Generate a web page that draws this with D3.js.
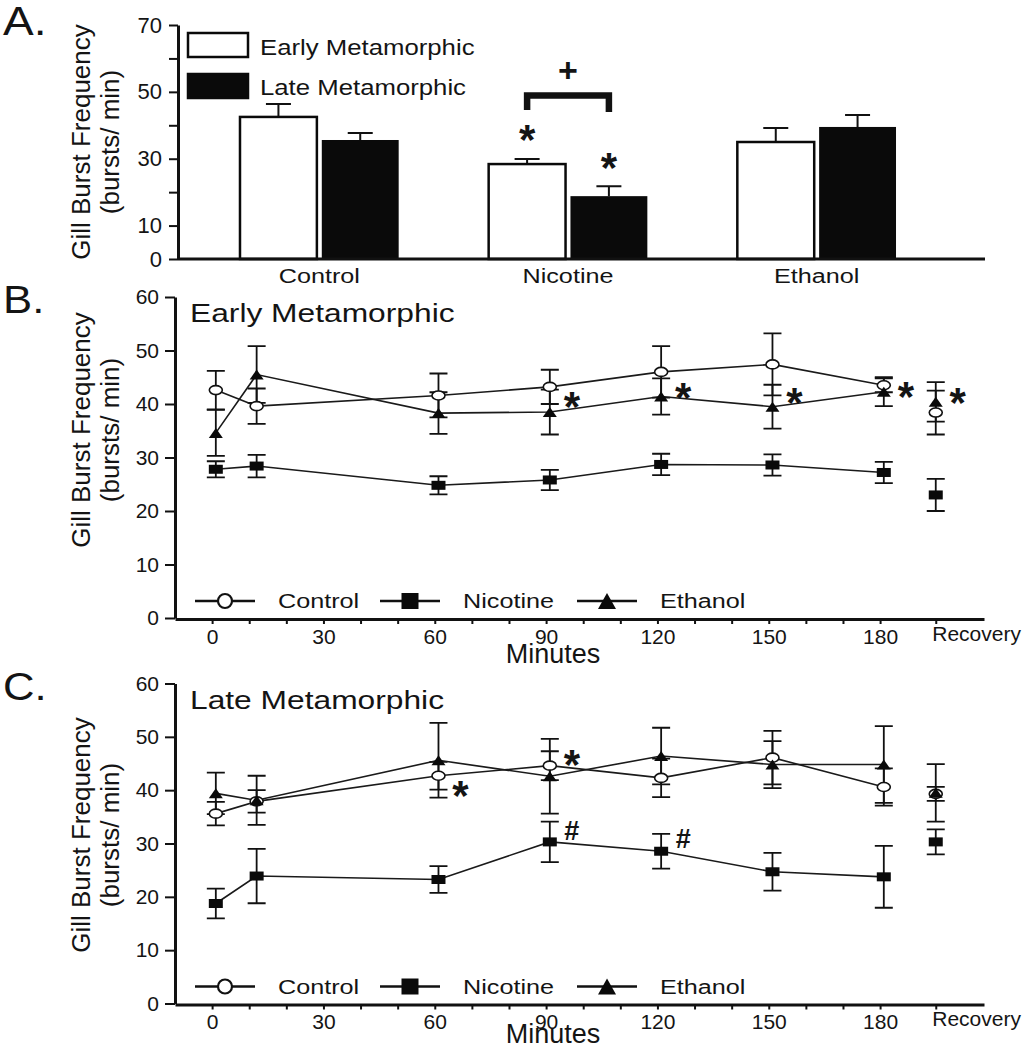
<!DOCTYPE html>
<html>
<head>
<meta charset="utf-8">
<script src="https://cdn.jsdelivr.net/npm/d3@7"></script>
<style>
  body { margin: 0; background: #fff; }
  svg text { font-family: 'Liberation Sans', Arial, sans-serif; fill: #141414; }
</style>
</head>
<body>
<div id="chart"></div>
<script>
// ---- panel A data (bar chart)
let treatments = ['Control', 'Nicotine', 'Ethanol']
let stages = ['Early Metamorphic', 'Late Metamorphic']
let earlyMeans = [42.5, 28.4, 35.0]
let earlyErrors = [3.9, 1.5, 4.2]
let lateMeans = [35.6, 18.8, 39.5]
let lateErrors = [2.1, 3.0, 3.6]
let barTicks = [0, 10, 20, 30, 40, 50, 60, 70]
let barTickLabels = [0, 10, 30, 50, 70]
let bracketLevels = [44.6, 48.9, 44.0]
let plusLevel = 56.5
let barStars = [{ stage: 0, v: 38.7 }, { stage: 1, v: 30.4 }]

// ---- panels B and C data (minutes, last point is recovery)
let minutes = [1, 12, 61, 91, 121, 151, 181, 195]
let recoveryMinute = 195
let timeTicks = [0, 10, 20, 30, 40, 50, 60, 70, 80, 90, 100, 110, 120, 130, 140, 150, 160, 170, 180]
let timeTickLabels = [0, 30, 60, 90, 120, 150, 180]
let rateTicks = [0, 10, 20, 30, 40, 50, 60]
let seriesNames = ['Control', 'Nicotine', 'Ethanol']

let earlyControl = [42.6, 39.6, 41.6, 43.2, 46.0, 47.4, 43.5, 38.4]
let earlyControlErr = [3.6, 3.3, 4.1, 3.2, 4.8, 5.8, 1.3, 4.1]
let earlyNicotine = [27.8, 28.4, 24.8, 25.8, 28.7, 28.6, 27.2, 23.0]
let earlyNicotineErr = [1.5, 2.1, 1.7, 1.9, 2.0, 2.0, 2.0, 3.0]
let earlyEthanol = [34.6, 45.5, 38.3, 38.5, 41.4, 39.5, 42.3, 40.4]
let earlyEthanolErr = [4.3, 5.3, 3.9, 4.2, 3.4, 4.1, 2.7, 3.7]
let earlyMarks = [
  { t: 91, v: 41.3, s: '*' },
  { t: 121, v: 43.0, s: '*' },
  { t: 151, v: 42.2, s: '*' },
  { t: 181, v: 43.2, s: '*' },
  { t: 195, v: 42.1, s: '*' }
]

let lateControl = [35.6, 37.9, 42.7, 44.6, 42.3, 46.1, 40.6, 39.3]
let lateControlErr = [2.2, 2.1, 2.6, 2.7, 3.6, 5.0, 3.5, 1.3]
let lateNicotine = [18.75, 23.9, 23.25, 30.3, 28.55, 24.7, 23.75, 30.3]
let lateNicotineErr = [2.8, 5.1, 2.5, 3.8, 3.25, 3.55, 5.8, 2.35]
let lateEthanol = [39.4, 38.1, 45.6, 42.6, 46.4, 44.8, 44.8, 39.5]
let lateEthanolErr = [3.9, 4.6, 7.0, 7.0, 5.3, 4.4, 7.2, 5.4]
let lateMarks = [
  { t: 61, v: 40.9, s: '*' },
  { t: 91, v: 46.7, s: '*' },
  { t: 91, v: 32.5, s: '#' },
  { t: 121, v: 31.0, s: '#' }
]

let ink = '#111'

let svg = d3
  .select('#chart')
  .append('svg')
  .attr('width', 1025)
  .attr('height', 1050)

// text drawn with a horizontal stretch, like the scanned figure
function addText(parent, x, y, str, size, sx, anchor) {
  return parent
    .append('text')
    .attr('transform', 'translate(' + x + ',' + y + ') scale(' + sx + ',1)')
    .attr('font-size', size)
    .attr('text-anchor', anchor || 'start')
    .text(str)
}

function yLabel(parent, cy) {
  addText(parent, 0, 0, 'Gill Burst Frequency', 26, 1, 'middle').attr(
    'transform',
    'translate(90,' + cy + ') rotate(-90)'
  )
  addText(parent, 0, 0, '(bursts/ min)', 26, 1, 'middle').attr(
    'transform',
    'translate(119,' + cy + ') rotate(-90)'
  )
}

function styleAxis(g, size) {
  g.attr('font-family', null)
    .attr('font-size', size)
    .style('color', ink)
  g.select('.domain').attr('stroke-width', 3)
  g.selectAll('.tick line').attr('stroke-width', 2)
}

// ================= panel A =================
let yA = d3.scaleLinear().domain([0, 70]).range([259, 25])
let xA = d3.scaleBand().domain(treatments).range([195, 941])
let xStage = d3
  .scaleBand()
  .domain(stages)
  .range([0, xA.bandwidth()])
  .paddingInner(0.06)
  .paddingOuter(0.55)

let panelA = svg.append('g')

let barData = []
treatments.forEach((t, i) => {
  barData.push({ treatment: t, stage: stages[0], mean: earlyMeans[i], err: earlyErrors[i] })
  barData.push({ treatment: t, stage: stages[1], mean: lateMeans[i], err: lateErrors[i] })
})

function barCenter(d) {
  return xA(d.treatment) + xStage(d.stage) + xStage.bandwidth() / 2
}

// error bars (upper only)
panelA
  .selectAll('.err-a')
  .data(barData)
  .enter()
  .append('path')
  .attr('class', 'err-a')
  .attr('d', d => {
    let cx = barCenter(d)
    let top = yA(d.mean + d.err)
    return 'M' + cx + ',' + yA(d.mean) + 'V' + top + 'M' + (cx - 12.5) + ',' + top + 'H' + (cx + 12.5)
  })
  .attr('stroke', ink)
  .attr('stroke-width', 2)
  .attr('fill', 'none')

panelA
  .selectAll('.bar')
  .data(barData)
  .enter()
  .append('rect')
  .attr('class', 'bar')
  .attr('x', d => xA(d.treatment) + xStage(d.stage))
  .attr('y', d => yA(d.mean))
  .attr('width', xStage.bandwidth())
  .attr('height', d => yA(0) - yA(d.mean))
  .attr('fill', d => (d.stage === stages[0] ? 'white' : '#0a0a0a'))
  .attr('stroke', '#0a0a0a')
  .attr('stroke-width', d => (d.stage === stages[0] ? 2.5 : 0))

let yAxisA = d3
  .axisLeft(yA)
  .tickValues(barTicks)
  .tickSize(9)
  .tickSizeOuter(0)
  .tickPadding(7)
  .tickFormat(d => (barTickLabels.includes(d) ? d : ''))

let gyA = panelA
  .append('g')
  .attr('transform', 'translate(178,0)')
  .call(yAxisA)
styleAxis(gyA, 22)

panelA
  .append('line')
  .attr('x1', 178)
  .attr('x2', 985)
  .attr('y1', yA(0))
  .attr('y2', yA(0))
  .attr('stroke', ink)
  .attr('stroke-width', 3)

treatments.forEach(t => {
  addText(panelA, xA(t) + xA.bandwidth() / 2, 283, t, 21, 1.2, 'middle')
})

// nicotine comparison bracket
let nicX0 = xA('Nicotine') + xStage(stages[0]) + xStage.bandwidth() / 2
let nicX1 = xA('Nicotine') + xStage(stages[1]) + xStage.bandwidth() / 2
panelA
  .append('path')
  .attr(
    'd',
    'M' + nicX0 + ',' + yA(bracketLevels[0]) +
      'V' + yA(bracketLevels[1]) +
      'H' + nicX1 +
      'V' + yA(bracketLevels[2])
  )
  .attr('fill', 'none')
  .attr('stroke', ink)
  .attr('stroke-width', 6.5)

addText(panelA, (nicX0 + nicX1) / 2, yA(plusLevel), '+', 34, 1, 'middle')
  .attr('font-weight', 'bold')
  .attr('dy', '0.36em')

barStars.forEach(s => {
  let cx = s.stage === 0 ? nicX0 : nicX1
  addText(panelA, cx, yA(s.v), '*', 42, 1, 'middle')
    .attr('font-weight', 'bold')
    .attr('dy', '0.58em')
})

// legend A
stages.forEach((s, i) => {
  panelA
    .append('rect')
    .attr('x', 188)
    .attr('y', 33 + i * 41)
    .attr('width', 60)
    .attr('height', 24)
    .attr('fill', i === 0 ? 'white' : '#0a0a0a')
    .attr('stroke', '#0a0a0a')
    .attr('stroke-width', 2.5)
  addText(panelA, 260, 55 + i * 40, s, 22, 1.17)
})

addText(svg, 3, 35, 'A.', 40, 1.15)
yLabel(panelA, 142)

// ================= panels B and C =================
let xT = d3.scaleLinear().domain([-10, 208]).range([175, 984])

function trianglePath(cx, cy, w, h) {
  return 'M' + (cx - w / 2) + ',' + (cy + h / 2) + 'L' + cx + ',' + (cy - h / 2) + 'L' + (cx + w / 2) + ',' + (cy + h / 2) + 'Z'
}

function drawMarker(parent, kind, cx, cy, big) {
  if (kind === 'circle') {
    parent
      .append('ellipse')
      .attr('cx', cx)
      .attr('cy', cy)
      .attr('rx', big ? 7 : 6.5)
      .attr('ry', big ? 7 : 4.5)
      .attr('fill', 'white')
      .attr('stroke', ink)
      .attr('stroke-width', big ? 2.2 : 1.6)
  } else if (kind === 'square') {
    let w = big ? 17 : 14
    let h = big ? 16 : 9
    parent
      .append('rect')
      .attr('x', cx - w / 2)
      .attr('y', cy - h / 2)
      .attr('width', w)
      .attr('height', h)
      .attr('fill', '#0a0a0a')
  } else {
    parent
      .append('path')
      .attr('d', trianglePath(cx, cy, big ? 18 : 14, big ? 16 : 10))
      .attr('fill', '#0a0a0a')
  }
}

function drawTimePanel(opts) {
  let g = svg.append('g')
  let y = d3.scaleLinear().domain([0, 60]).range([opts.bottom, opts.top])
  let kinds = ['circle', 'square', 'triangle']

  let series = seriesNames.map((name, i) => {
    return {
      name: name,
      kind: kinds[i],
      values: minutes.map((t, j) => ({ t: t, v: opts.means[i][j], e: opts.errs[i][j] }))
    }
  })

  let line = d3
    .line()
    .x(d => xT(d.t))
    .y(d => y(d.v))

  // error bars
  series.forEach(s => {
    g.selectAll(null)
      .data(s.values)
      .enter()
      .append('path')
      .attr('d', d => {
        let cx = xT(d.t)
        let hi = y(d.v + d.e)
        let lo = y(d.v - d.e)
        return 'M' + cx + ',' + lo + 'V' + hi +
          'M' + (cx - 9) + ',' + hi + 'H' + (cx + 9) +
          'M' + (cx - 9) + ',' + lo + 'H' + (cx + 9)
      })
      .attr('stroke', ink)
      .attr('stroke-width', 1.8)
      .attr('fill', 'none')
  })

  // connecting lines (recovery is not joined)
  series.forEach(s => {
    g.append('path')
      .datum(s.values.filter(d => d.t !== recoveryMinute))
      .attr('d', line)
      .attr('fill', 'none')
      .attr('stroke', '#1a1a1a')
      .attr('stroke-width', 1.6)
  })

  series.forEach(s => {
    s.values.forEach(d => drawMarker(g, s.kind, xT(d.t), y(d.v), false))
  })

  // significance marks
  opts.marks.forEach(m => {
    let t = addText(g, xT(m.t) + 22, y(m.v), m.s, m.s === '*' ? 42 : 27, 1, 'middle')
    t.attr('dy', m.s === '*' ? '0.58em' : '0.36em').attr('font-weight', 'bold')
  })

  // axes
  let yAxis = d3
    .axisLeft(y)
    .tickValues(rateTicks)
    .tickSize(10)
    .tickSizeOuter(0)
    .tickPadding(6)
  let gy = g
    .append('g')
    .attr('transform', 'translate(175,0)')
    .call(yAxis)
  styleAxis(gy, 21)

  let xAxis = d3
    .axisBottom(xT)
    .tickValues(timeTicks.concat([recoveryMinute]))
    .tickSize(5)
    .tickSizeOuter(0)
    .tickPadding(5)
    .tickFormat(d => (d === recoveryMinute ? 'Recovery' : timeTickLabels.includes(d) ? d : ''))
  let gx = g
    .append('g')
    .attr('transform', 'translate(0,' + (y(0) + 1) + ')')
    .call(xAxis)
  styleAxis(gx, 21)
  gx.selectAll('.tick text')
    .filter(d => d === recoveryMinute)
    .attr('text-anchor', 'start')
    .attr('x', -4)
    .attr('dy', '0.55em')

  addText(g, 553, y(0) + opts.minutesGap, 'Minutes', 27, 1, 'middle')

  // legend
  let legendX = [195, 380, 577]
  let ly = y(0) - 17
  series.forEach((s, i) => {
    g.append('line')
      .attr('x1', legendX[i])
      .attr('x2', legendX[i] + 60)
      .attr('y1', ly)
      .attr('y2', ly)
      .attr('stroke', ink)
      .attr('stroke-width', 2.5)
    drawMarker(g, s.kind, legendX[i] + 30, ly, true)
    addText(g, legendX[i] + 83, ly + 7, s.name, 21, 1.2)
  })

  addText(g, 190, opts.top + 25, opts.title, 25, 1.27)
  addText(svg, 3, opts.top + 16, opts.letter, 38, 1.15)
  yLabel(g, opts.labelY)
}

drawTimePanel({
  top: 297,
  bottom: 618,
  title: 'Early Metamorphic',
  letter: 'B.',
  labelY: 430,
  minutesGap: 45,
  means: [earlyControl, earlyNicotine, earlyEthanol],
  errs: [earlyControlErr, earlyNicotineErr, earlyEthanolErr],
  marks: earlyMarks
})

drawTimePanel({
  top: 683.5,
  bottom: 1003.5,
  title: 'Late Metamorphic',
  letter: 'C.',
  labelY: 835,
  minutesGap: 39,
  means: [lateControl, lateNicotine, lateEthanol],
  errs: [lateControlErr, lateNicotineErr, lateEthanolErr],
  marks: lateMarks
})
</script>
</body>
</html>
